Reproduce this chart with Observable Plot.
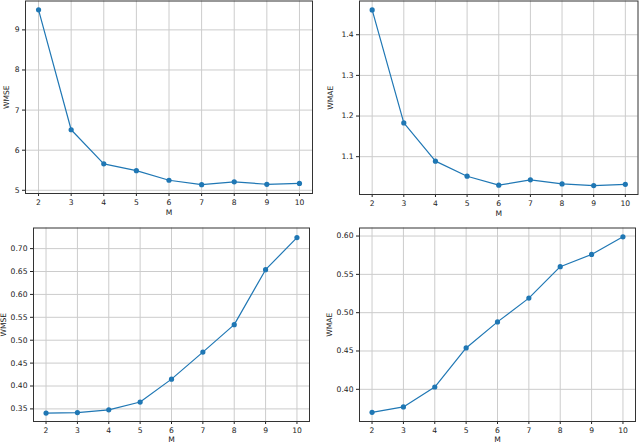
<!DOCTYPE html>
<html>
<head>
<meta charset="utf-8">
<script src="https://cdn.jsdelivr.net/npm/d3@7"></script>
<script src="https://cdn.jsdelivr.net/npm/@observablehq/plot@0.6"></script>
<style>
  html, body { margin: 0; padding: 0; background: white; }
  #fig { position: relative; width: 640px; height: 443px; overflow: hidden; background: white; }
  #fig > div, #fig > svg { position: absolute; }
</style>
</head>
<body>
<div id="fig"></div>
<script>
// Data
const M = [2, 3, 4, 5, 6, 7, 8, 9, 10];
const wmseTop = [9.50, 6.51, 5.66, 5.49, 5.25, 5.14, 5.21, 5.15, 5.17];
const wmaeTop = [1.461, 1.183, 1.089, 1.052, 1.030, 1.043, 1.033, 1.029, 1.032];
const wmseBottom = [0.341, 0.342, 0.348, 0.365, 0.415, 0.474, 0.534, 0.654, 0.724];
const wmaeBottom = [0.370, 0.377, 0.403, 0.454, 0.488, 0.519, 0.560, 0.576, 0.599];

const ticksWmseTop = [5, 6, 7, 8, 9];
const ticksWmaeTop = [1.1, 1.2, 1.3, 1.4];
const ticksWmseBottom = [0.35, 0.40, 0.45, 0.50, 0.55, 0.60, 0.65, 0.70];
const ticksWmaeBottom = [0.40, 0.45, 0.50, 0.55, 0.60];

const BLUE = "#1f77b4";

function panel({values, yLabel, yDomain, yTicks, yFormat, left, top, width, height,
                mL, mR, mT, mB, yLabelOffset, xLabelOffset}) {
  const data = M.map((m, i) => ({M: m, v: values[i]}));
  const p = Plot.plot({
    width, height,
    marginLeft: mL, marginRight: mR, marginTop: mT, marginBottom: mB,
    style: {fontFamily: "DejaVu Sans", fontSize: "7.6px", color: "#222", background: "white", overflow: "visible"},
    x: {domain: [1.6, 10.4]},
    y: {domain: yDomain},
    marks: [
      Plot.gridX(M, {stroke: "#cccccc", strokeOpacity: 1, strokeWidth: 1}),
      Plot.gridY(yTicks, {stroke: "#cccccc", strokeOpacity: 1, strokeWidth: 1}),
      Plot.axisX(M, {tickSize: 3, tickPadding: 3, tickFormat: d => String(d),
        label: "M", labelAnchor: "center", labelArrow: "none", labelOffset: xLabelOffset}),
      Plot.axisY(yTicks, {tickSize: 3, tickPadding: 3, tickFormat: yFormat,
        label: yLabel, labelAnchor: "center", labelArrow: "none", labelOffset: yLabelOffset}),
      Plot.line(data, {x: "M", y: "v", stroke: BLUE, strokeWidth: 1.2}),
      Plot.dot(data, {x: "M", y: "v", r: 2.6, fill: BLUE, stroke: "none"}),
      Plot.frame({stroke: "#333", strokeWidth: 1})
    ]
  });
  p.style.left = left + "px";
  p.style.top = top + "px";
  document.getElementById("fig").appendChild(p);
}

panel({values: wmseTop, yLabel: "WMSE", yDomain: [4.92, 9.72], yTicks: ticksWmseTop,
  yFormat: d => String(d), left: 0, top: 0, width: 320, height: 220,
  mL: 25, mR: 8, mT: 0.5, mB: 27, yLabelOffset: 21.5, xLabelOffset: 21});

panel({values: wmaeTop, yLabel: "WMAE", yDomain: [1.007, 1.483], yTicks: ticksWmaeTop,
  yFormat: d3.format(".1f"), left: 320, top: 0, width: 320, height: 220,
  mL: 39, mR: 2.5, mT: 0.5, mB: 26, yLabelOffset: 31.5, xLabelOffset: 21});

panel({values: wmseBottom, yLabel: "WMSE", yDomain: [0.3225, 0.745], yTicks: ticksWmseBottom,
  yFormat: d3.format(".2f"), left: 0, top: 220, width: 320, height: 223,
  mL: 33, mR: 11, mT: 7.5, mB: 22, yLabelOffset: 32.5, xLabelOffset: 20});

panel({values: wmaeBottom, yLabel: "WMAE", yDomain: [0.358, 0.6105], yTicks: ticksWmaeBottom,
  yFormat: d3.format(".2f"), left: 320, top: 220, width: 320, height: 223,
  mL: 39, mR: 5, mT: 7.5, mB: 22, yLabelOffset: 32.5, xLabelOffset: 20});
</script>
</body>
</html>
